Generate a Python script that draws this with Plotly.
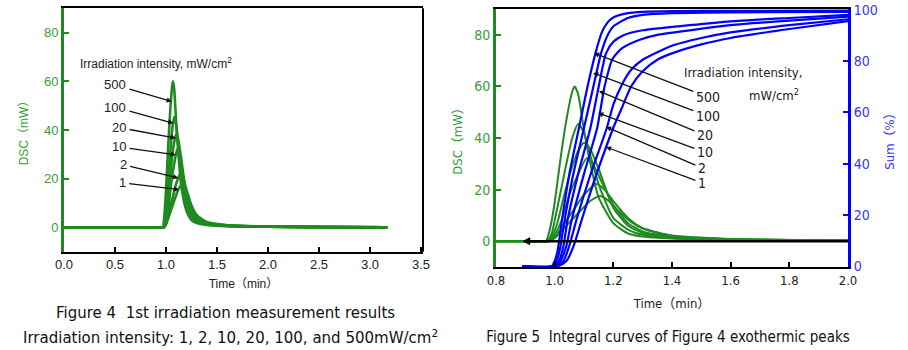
import plotly.graph_objects as go

intensities = ["500", "100", "20", "10", "2", "1"]

# ---- DSC (mW) vs time (min) ----
dsc_t_500 = [0.0, 0.9, 0.97, 0.98, 0.99, 1.0, 1.02, 1.04, 1.06, 1.068, 1.08, 1.1, 1.12, 1.15, 1.2, 1.25, 1.3, 1.4, 1.6, 2.0, 2.6, 3.17]
dsc_500 = [0, 0, 0, 3, 8, 15, 32, 47, 58, 60, 57, 43, 31, 17, 7, 3, 1.8, 1.0, 0.5, 0.3, 0.1, 0]
dsc_t_100 = [0.0, 0.9, 0.975, 0.99, 1.0, 1.02, 1.04, 1.06, 1.08, 1.1, 1.12, 1.15, 1.2, 1.25, 1.3, 1.4, 1.6, 2.0, 2.6, 3.17]
dsc_100 = [0, 0, 0, 3, 8, 19, 30, 40, 45.4, 42, 34, 22, 9, 4.5, 2.5, 1.2, 0.6, 0.3, 0.1, 0]
dsc_t_20 = [0.0, 0.9, 0.975, 1.0, 1.012, 1.035, 1.06, 1.08, 1.1, 1.12, 1.15, 1.2, 1.25, 1.3, 1.4, 1.6, 2.0, 2.6, 3.17]
dsc_20 = [0, 0, 0, 4, 8.2, 19, 29, 35, 38.2, 36, 28, 13, 6, 3.2, 1.4, 0.7, 0.3, 0.1, 0]
dsc_t_10 = [0.0, 0.9, 0.975, 1.0, 1.024, 1.05, 1.08, 1.109, 1.13, 1.16, 1.2, 1.25, 1.3, 1.4, 1.6, 2.0, 2.6, 3.17]
dsc_10 = [0, 0, 0, 2.5, 8.2, 18, 26, 32.1, 30, 23, 14, 7, 3.8, 1.6, 0.7, 0.3, 0.1, 0]
dsc_t_2 = [0.0, 0.9, 0.98, 1.0, 1.041, 1.07, 1.1, 1.143, 1.17, 1.2, 1.25, 1.3, 1.4, 1.6, 2.0, 2.6, 3.17]
dsc_2 = [0, 0, 0, 1.5, 8.2, 13, 18, 22.2, 20, 15.5, 9, 5, 2, 0.8, 0.3, 0.1, 0]
dsc_t_1 = [0.0, 0.9, 0.98, 1.0, 1.058, 1.09, 1.12, 1.154, 1.18, 1.22, 1.26, 1.3, 1.4, 1.6, 2.0, 2.6, 3.17]
dsc_1 = [0, 0, 0, 1.2, 8.2, 12, 15.5, 17.5, 16, 11.5, 7.5, 5, 2.2, 0.9, 0.3, 0.1, 0]

# ---- Integral (Sum, %) vs time (min) ----
sum_t_500 = [0.89, 0.99, 1.0, 1.01, 1.025, 1.05, 1.083, 1.11, 1.139, 1.16, 1.18, 1.2, 1.25, 1.3, 1.4, 1.6, 2.0]
sum_500 = [0, 0, 2, 6, 18, 36, 54, 69, 83, 91, 95, 97, 98.7, 99.2, 99.5, 99.6, 99.7]
sum_t_100 = [0.89, 0.995, 1.01, 1.02, 1.034, 1.06, 1.1, 1.13, 1.158, 1.18, 1.2, 1.25, 1.3, 1.4, 1.6, 2.0]
sum_100 = [0, 0, 3, 8, 18, 34, 54, 69, 83, 90, 93.5, 96.8, 98, 98.7, 99, 99.2]
sum_t_20 = [0.89, 1.0, 1.015, 1.03, 1.044, 1.08, 1.122, 1.15, 1.175, 1.2, 1.233, 1.3, 1.46, 1.6, 1.8, 2.0]
sum_20 = [0, 0, 2, 8, 18, 36, 54, 70, 83, 87.5, 90, 92, 94, 95.5, 96.8, 98.0]
sum_t_10 = [0.89, 1.0, 1.02, 1.04, 1.058, 1.1, 1.145, 1.17, 1.198, 1.23, 1.29, 1.35, 1.46, 1.6, 1.8, 2.0]
sum_10 = [0, 0, 2, 8, 18, 36, 54, 70, 81, 85, 88.3, 90.2, 92, 94, 95.8, 97.3]
sum_t_2 = [0.89, 1.005, 1.03, 1.05, 1.074, 1.12, 1.178, 1.2, 1.23, 1.26, 1.3, 1.4, 1.5, 1.6, 1.8, 2.0]
sum_2 = [0, 0, 2, 8, 18, 35, 54, 63, 71, 76.5, 80.5, 86, 89, 91.2, 94, 96.3]
sum_t_1 = [0.89, 1.01, 1.04, 1.065, 1.092, 1.14, 1.2, 1.23, 1.26, 1.3, 1.35, 1.4, 1.5, 1.6, 1.8, 2.0]
sum_1 = [0, 0, 2, 8, 18, 35, 54, 62, 70, 76, 80.5, 83, 86.5, 89, 92.5, 95.6]

x1_ticks = [0.0, 0.5, 1.0, 1.5, 2.0, 2.5, 3.0, 3.5]
x2_ticks = [0.8, 1.0, 1.2, 1.4, 1.6, 1.8, 2.0]
dsc_ticks = [0, 20, 40, 60, 80]
sum_ticks = [0, 20, 40, 60, 80, 100]

GREEN = "#1f8a1f"
GREEN_T = "#35a035"
BLUE = "#0000ff"
BLUE_T = "#3535ff"
ARIAL = "Liberation Sans, Arial, sans-serif"
NARROW = "Liberation Sans Narrow, DejaVu Sans Condensed, sans-serif"
NARROWJ = "Liberation Sans Narrow, DejaVu Sans Condensed, Noto Sans CJK JP, sans-serif"
ARIALJ = "Liberation Sans, Noto Sans CJK JP, sans-serif"
WIDE = "DejaVu Sans, sans-serif"
COND = "DejaVu Sans Condensed, sans-serif"

dsc_t = [dsc_t_500, dsc_t_100, dsc_t_20, dsc_t_10, dsc_t_2, dsc_t_1]
dsc_v = [dsc_500, dsc_100, dsc_20, dsc_10, dsc_2, dsc_1]
sum_t = [sum_t_500, sum_t_100, sum_t_20, sum_t_10, sum_t_2, sum_t_1]
sum_v = [sum_500, sum_100, sum_20, sum_10, sum_2, sum_1]

fig = go.Figure()
for t, v in zip(dsc_t, dsc_v):
    fig.add_trace(go.Scatter(x=t, y=v, mode="lines", xaxis="x", yaxis="y",
                             line=dict(color=GREEN, width=2.6, shape="spline", smoothing=0.6),
                             showlegend=False, hoverinfo="skip"))
for t, v in zip(dsc_t, dsc_v):
    fig.add_trace(go.Scatter(x=t, y=v, mode="lines", xaxis="x2", yaxis="y2",
                             line=dict(color=GREEN, width=2, shape="spline", smoothing=0.6),
                             showlegend=False, hoverinfo="skip"))
for t, v in zip(sum_t, sum_v):
    fig.add_trace(go.Scatter(x=t, y=v, mode="lines", xaxis="x2", yaxis="y3",
                             line=dict(color=BLUE, width=2.2, shape="spline", smoothing=0.6),
                             showlegend=False, hoverinfo="skip"))

W, H = 908, 350
def px(x):
    return x / W
def py(y):
    return 1 - y / H

axis_common = dict(showgrid=False, zeroline=False, ticks="inside", ticklen=5, showline=True,
                   automargin=False)

fig.update_layout(
    width=W, height=H, margin=dict(l=0, r=0, t=0, b=0),
    paper_bgcolor="white", plot_bgcolor="white",
    title=dict(text="Figure 5  Integral curves of Figure 4 exothermic peaks", x=px(668), y=py(337),
               xref="paper", yref="paper", xanchor="center", yanchor="middle",
               font=dict(family=COND, size=15, color="#111")),
    xaxis=dict(domain=[px(64), px(423)], range=[0, 3.52], anchor="y", tickvals=x1_ticks,
               tickformat=".1f", linecolor="black", linewidth=2, mirror=True, tickcolor="black",
               tickwidth=1.5, tickfont=dict(family=ARIAL, size=13, color="#222"),
               title=dict(text="Time（min）", standoff=8, font=dict(family=ARIALJ, size=12, color="#222")),
               **axis_common),
    yaxis=dict(domain=[py(251.7), py(8.3)], range=[-10, 90], anchor="x", tickvals=dsc_ticks,
               linecolor=GREEN, linewidth=3, tickcolor=GREEN, tickwidth=1.5,
               tickfont=dict(family=ARIAL, size=13, color=GREEN_T),
               title=dict(text="DSC（mW）", standoff=13, font=dict(family=ARIALJ, size=12, color=GREEN_T)),
               **axis_common),
    xaxis2=dict(domain=[px(496), px(848)], range=[0.8, 2.0], anchor="y2", tickvals=x2_ticks,
                tickformat=".1f", linecolor="black", linewidth=2, mirror=True, tickcolor="black",
                tickwidth=1.5, tickfont=dict(family=NARROW, size=13, color="#222"),
                title=dict(text="Time（min）", standoff=12, font=dict(family=NARROWJ, size=13, color="#222")),
                **axis_common),
    yaxis2=dict(domain=[py(267), py(9)], range=[-10, 90], anchor="x2", tickvals=dsc_ticks,
                linecolor=GREEN, linewidth=3, tickcolor=GREEN, tickwidth=1.5,
                tickfont=dict(family=NARROW, size=14, color=GREEN_T),
                title=dict(text="DSC（mW）", standoff=9, font=dict(family=NARROWJ, size=13, color=GREEN_T)),
                **axis_common),
    yaxis3=dict(range=[-0.3, 100.3], anchor="x2", overlaying="y2", side="right", tickvals=sum_ticks,
                linecolor=BLUE, linewidth=3, tickcolor=BLUE, tickwidth=1.5,
                tickfont=dict(family=NARROW, size=14, color=BLUE_T),
                title=dict(text="Sum（%）", standoff=9, font=dict(family=NARROWJ, size=13, color=BLUE_T)),
                **axis_common),
)

# right border of left plot (black)
fig.add_shape(type="line", xref="x domain", yref="y domain", x0=1, x1=1, y0=0, y1=1,
              line=dict(color="black", width=2))
# black baseline at DSC = 0 with a left-pointing arrow head (right plot)
fig.add_shape(type="line", xref="x2", yref="y2", x0=0.905, x1=2.0, y0=0, y1=0,
              line=dict(color="black", width=2.6))
fig.add_shape(type="path", xref="x2", yref="y2",
              path="M 0.893,0 L 0.915,1.3 L 0.915,-1.3 Z",
              fillcolor="black", line=dict(color="black", width=1))

ann = []
# captions (Figure 4)
ann.append(dict(text="Figure 4  1st irradiation measurement results", x=px(225), y=py(313),
                font=dict(family=WIDE, size=15, color="#111")))
ann.append(dict(text="Irradiation intensity: 1, 2, 10, 20, 100, and 500mW/cm<sup>2</sup>", x=px(231), y=py(337),
                font=dict(family=WIDE, size=15, color="#111")))
for a in ann:
    a.update(xref="paper", yref="paper", showarrow=False, xanchor="center", yanchor="middle")

# left plot labels with arrows
ann.append(dict(text="Irradiation intensity, mW/cm<sup>2</sup>", x=0.133, y=67.4, xref="x", yref="y",
                xanchor="left", yanchor="middle", showarrow=False, font=dict(family=ARIAL, size=12, color="#222")))
l_lab_x = [0.50, 0.50, 0.54, 0.54, 0.58, 0.57]
l_lab_y = [58.5, 49.4, 41.0, 33.1, 25.7, 18.3]
l_head_x = [1.057, 1.072, 1.096, 1.096, 1.121, 1.128]
l_head_y = [51.7, 42.8, 36.7, 29.8, 20.3, 15.5]
for i, lab in enumerate(intensities):
    ann.append(dict(text=lab, x=l_head_x[i], y=l_head_y[i], ax=l_lab_x[i], ay=l_lab_y[i],
                    xref="x", yref="y", axref="x", ayref="y", xanchor="center", yanchor="middle",
                    showarrow=True, arrowhead=2, arrowsize=0.8, arrowwidth=1.3, arrowcolor="#111",
                    borderpad=3, font=dict(family=ARIAL, size=13, color="#222")))

# right plot labels with arrows
ann.append(dict(text="Irradiation intensity,", x=1.434, y=65.2, xref="x2", yref="y2", xanchor="left",
                yanchor="middle", showarrow=False, font=dict(family=NARROW, size=13, color="#222")))
ann.append(dict(text="mW/cm<sup>2</sup>", x=1.748, y=56.7, xref="x2", yref="y2", xanchor="center",
                yanchor="middle", showarrow=False, font=dict(family=NARROW, size=13, color="#222")))
r_lab_x = [1.522, 1.522, 1.512, 1.512, 1.502, 1.502]
r_lab_y = [55.9, 48.5, 41.1, 34.5, 28.4, 22.6]
r_head_x = [1.134, 1.131, 1.151, 1.148, 1.175, 1.175]
r_head_y = [72.9, 65.2, 58.2, 49.7, 44.3, 36.5]
for i, lab in enumerate(intensities):
    ann.append(dict(text=lab, x=r_head_x[i], y=r_head_y[i], ax=r_lab_x[i], ay=r_lab_y[i],
                    xref="x2", yref="y2", axref="x2", ayref="y2", xanchor="center", yanchor="middle",
                    showarrow=True, arrowhead=2, arrowsize=0.8, arrowwidth=1.3, arrowcolor="#111",
                    borderpad=2, font=dict(family=NARROW, size=14, color="#222")))

fig.update_layout(annotations=ann)
fig.write_html("out.html")
